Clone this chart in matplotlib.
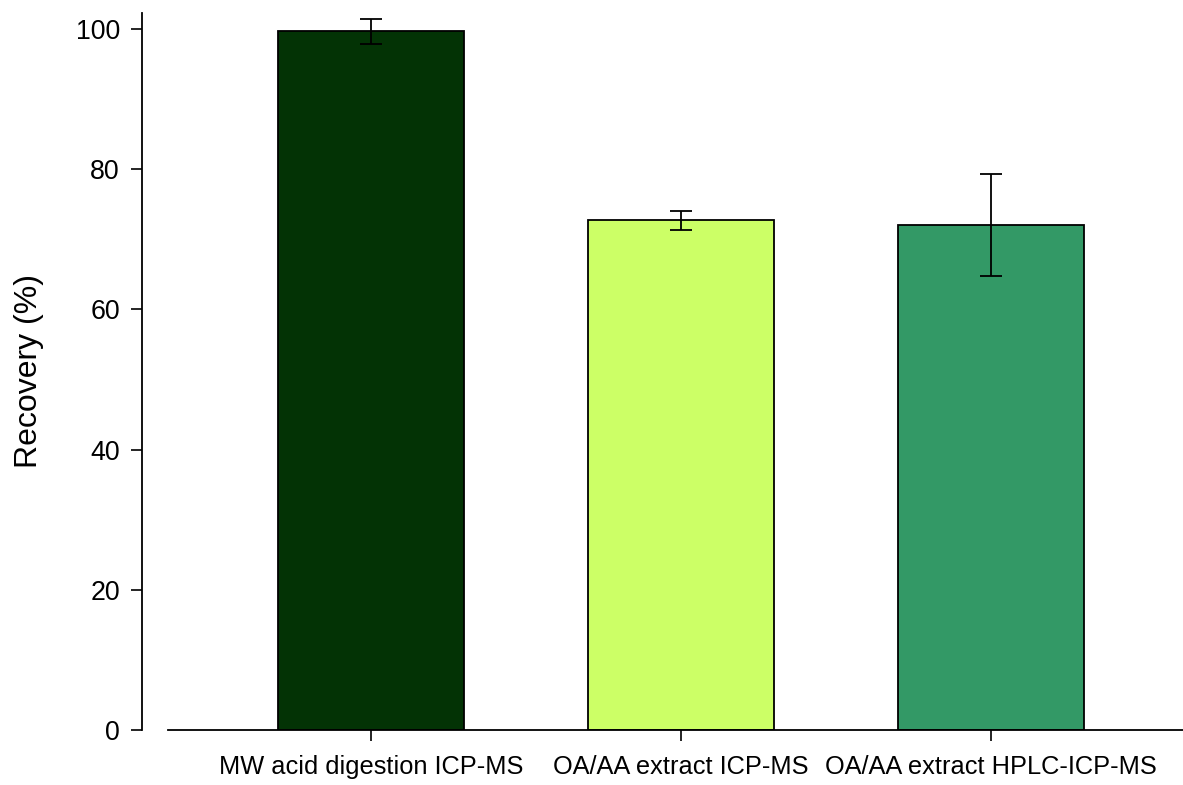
import matplotlib
matplotlib.use('Agg')
import numpy as np
import matplotlib.pyplot as plt

plt.rcParams['font.family'] = ['Liberation Sans', 'DejaVu Sans']

methods = ['MW acid digestion ICP-MS', 'OA/AA extract ICP-MS', 'OA/AA extract HPLC-ICP-MS']
recovery = [99.7, 72.7, 72.1]
recovery_sd = [1.8, 1.4, 7.3]
bar_colors = ['#033305', '#ccff66', '#339966']

W, H = 1183, 785
fig = plt.figure(figsize=(W / 100, H / 100), dpi=100)
# axes box in pixels: left spine at x=142, zero line at y=730, top of spine y=13
ax = fig.add_axes([142 / W, (H - 730) / H, (W - 142) / W, (730 - 13) / H])

x = np.arange(len(methods))
ax.bar(x, recovery, width=0.6, color=bar_colors, edgecolor='black', linewidth=1.3, zorder=2)
ax.errorbar(x, recovery, yerr=recovery_sd, fmt='none', ecolor='black',
            elinewidth=1.3, capsize=8, capthick=1.3, zorder=3)

step = 310.0  # pixel distance between bar centres
ax.set_xlim((142 - 371) / step, (W - 371) / step)
ax.set_ylim(0, 102.3)

for s in ['top', 'right']:
    ax.spines[s].set_visible(False)
ax.spines['left'].set_linewidth(1.3)
ax.spines['bottom'].set_linewidth(1.3)
ax.spines['bottom'].set_bounds((168 - 371) / step, (W - 371) / step)

ax.set_yticks([0, 20, 40, 60, 80, 100])
ax.set_xticks(x)
ax.set_xticklabels(methods, fontsize=18.3)
ax.tick_params(axis='y', labelsize=19.3, length=8, width=1.2, pad=8)
ax.tick_params(axis='x', length=8, width=1.2, pad=10)

ax.set_ylabel('Recovery (%)', fontsize=23)
ax.yaxis.set_label_coords(-0.094, 0.5)

fig.savefig('out.png', dpi=100)
